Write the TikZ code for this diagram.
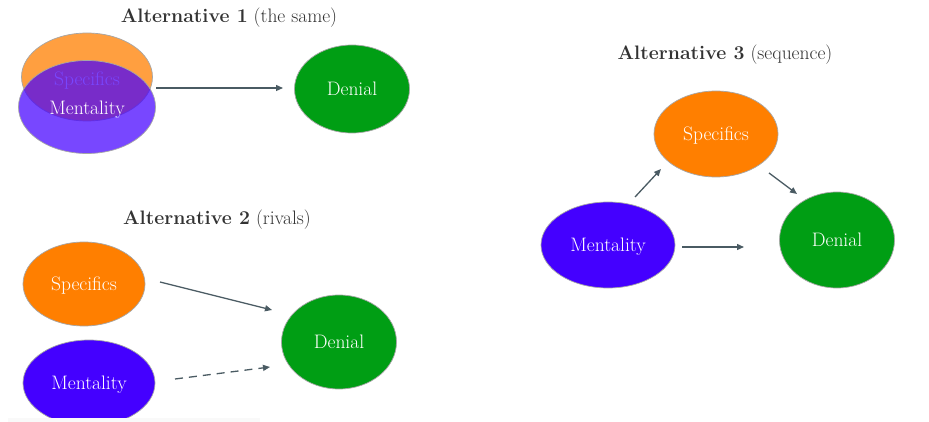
\documentclass[tikz,border=0pt]{standalone}
\usepackage{fontspec}
\setmainfont{Latin Modern Roman}
\usetikzlibrary{shapes.geometric,arrows.meta}
\definecolor{orangeA}{HTML}{FF7F00}
\definecolor{purpleA}{HTML}{4400FF}
\definecolor{greenA}{HTML}{009E14}
\definecolor{arrowC}{HTML}{4A5B63}
\definecolor{titleC}{HTML}{333333}
\begin{document}
\begin{tikzpicture}[x=1pt,y=-1pt,
  blob/.style={ellipse, inner sep=0pt, draw=gray!70, line width=0.7pt, text=white,
    text depth=0pt, font=\fontsize{19.5}{22}\selectfont},
  orangeblob/.style={blob, fill=orangeA},
  purpleblob/.style={blob, fill=purpleA},
  greenblob/.style={blob, fill=greenA},
  title/.style={text=titleC, font=\fontsize{19.5}{22}\selectfont},
  conn/.style={draw=arrowC, line width=1.3pt, -{Triangle[length=7pt,width=6pt]}},
  dashconn/.style={conn, dash pattern=on 8pt off 6pt}]
\useasboundingbox (0,0) rectangle (929,422);
\fill[white] (0,0) rectangle (929,422);
% ---------- Alternative 1
\node[title] (t1) at (229,18) {\textbf{Alternative 1} (the same)};
\node[orangeblob, fill opacity=0.75, text opacity=1, minimum width=131pt, minimum height=88pt] (s1) at (87,77) {\raisebox{-3pt}{Specifics}};
\node[purpleblob, fill opacity=0.72, text opacity=1, minimum width=137pt, minimum height=93pt] (m1) at (87,107) {};
\node[text=white, text depth=0pt, font=\fontsize{19.5}{22}\selectfont] (m1t) at (87,108) {Mentality};
\node[greenblob, minimum width=115pt, minimum height=88pt] (d1) at (352,89) {Denial};
\coordinate (a1s) at (156,88);
\coordinate (a1e) at (283,88);
\draw[conn] (a1s) -- (a1e);
% ---------- Alternative 2
\node[title] (t2) at (217,220) {\textbf{Alternative 2} (rivals)};
\node[orangeblob, minimum width=122pt, minimum height=84pt] (s2) at (84,284) {Specifics};
\node[purpleblob, minimum width=132pt, minimum height=86pt] (m2) at (89,383) {Mentality};
\node[greenblob, minimum width=115pt, minimum height=94pt] (d2) at (339,342) {Denial};
\coordinate (a2s) at (160,282);
\coordinate (a2e) at (272,310);
\draw[conn] (a2s) -- (a2e);
\coordinate (a3s) at (175,379);
\coordinate (a3e) at (270,367);
\draw[dashconn] (a3s) -- (a3e);
\fill[gray!5] (8,418) rectangle (260,422);
% ---------- Alternative 3
\node[title] (t3) at (725,55) {\textbf{Alternative 3} (sequence)};
\node[orangeblob, minimum width=124pt, minimum height=86pt] (s3) at (716,134) {Specifics};
\node[purpleblob, minimum width=134pt, minimum height=86pt] (m3) at (608,245) {Mentality};
\node[greenblob, minimum width=115pt, minimum height=96pt] (d3) at (837,240) {Denial};
\coordinate (b1s) at (635,197);
\coordinate (b1e) at (661,169);
\draw[conn] (b1s) -- (b1e);
\coordinate (b2s) at (769,173);
\coordinate (b2e) at (797,194);
\draw[conn] (b2s) -- (b2e);
\coordinate (b3s) at (682,247);
\coordinate (b3e) at (744,247);
\draw[conn] (b3s) -- (b3e);
\end{tikzpicture}
\end{document}
